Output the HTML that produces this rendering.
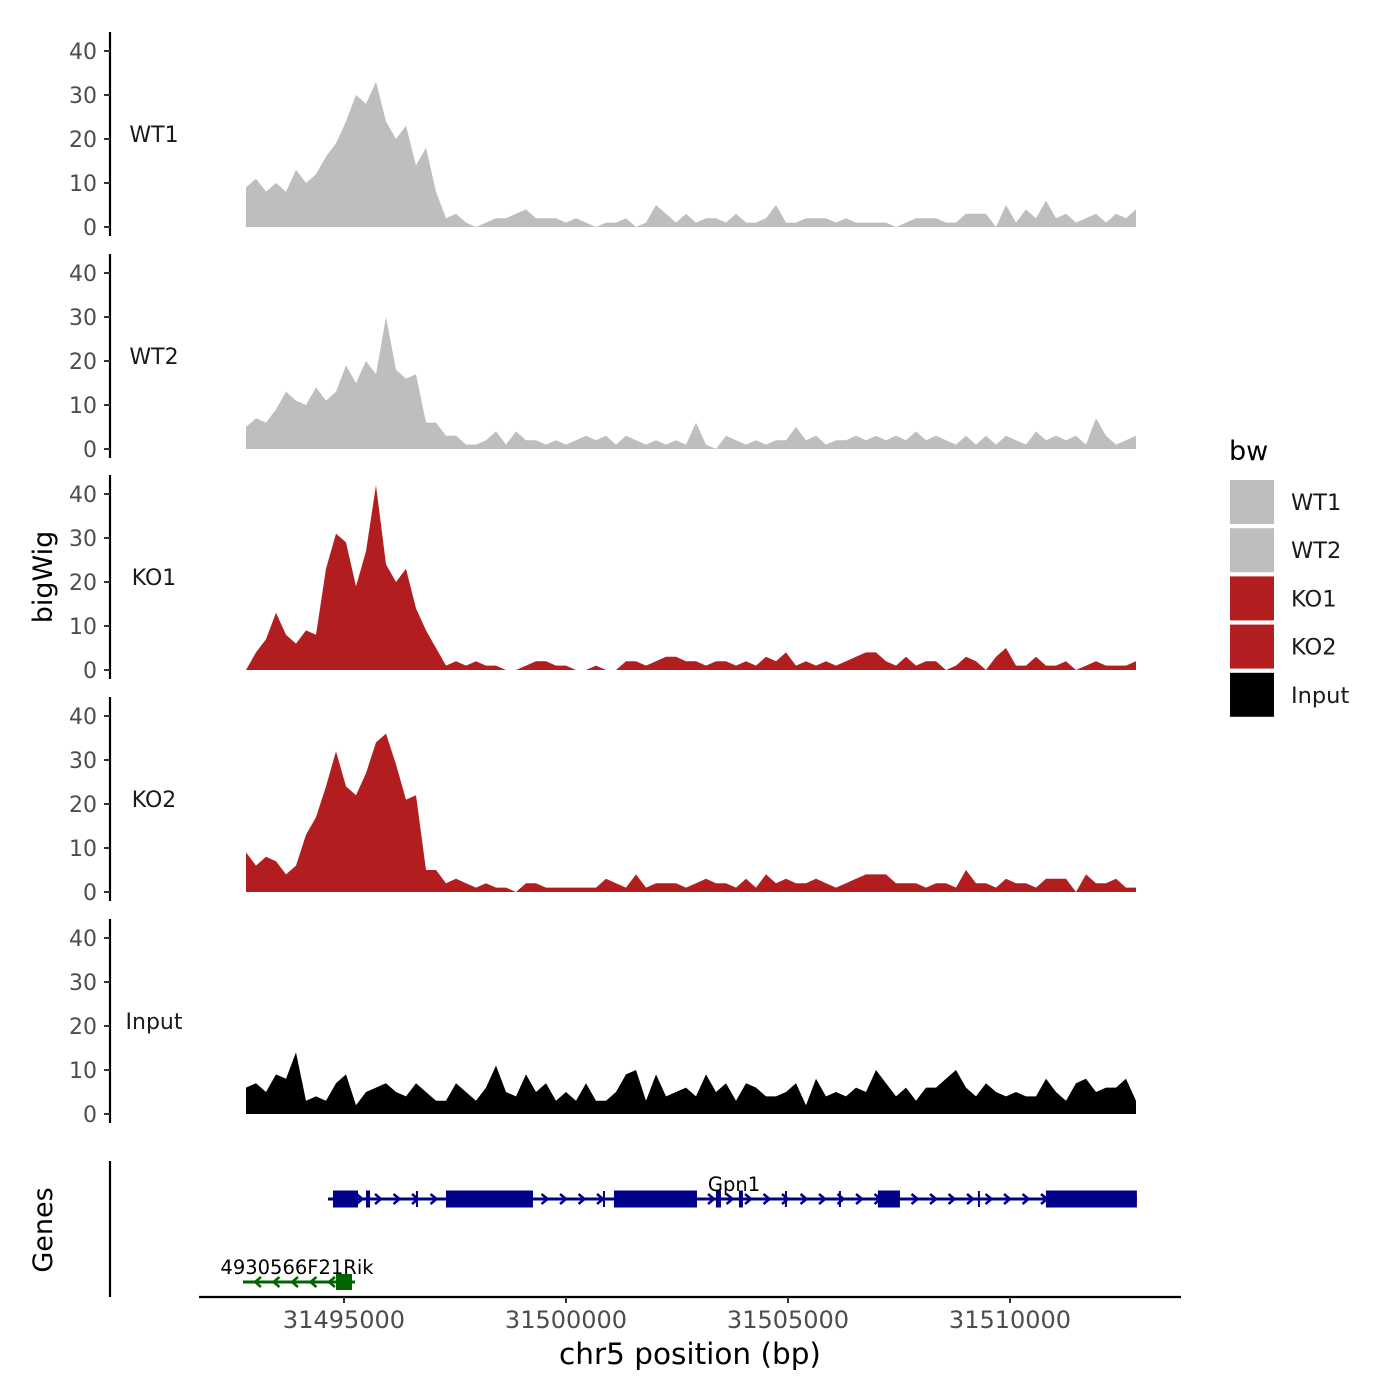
<!DOCTYPE html>
<html><head><meta charset="utf-8"><style>
body{margin:0;background:#fff}
svg{display:block;font-family:"DejaVu Sans","Liberation Sans",sans-serif}
</style></head><body>
<svg id="c" width="1400" height="1400" viewBox="0 0 1400 1400"></svg>
<script>
const tracks = ["WT1","WT2","KO1","KO2","Input"];
const trackColors = ["#bebebe","#bebebe","#b21e1f","#b21e1f","#000000"];
const wt1 = [9,11,8,10,8,13,10,12,16,19,24,30,28,33,24,20,23,14,18,8,2,3,1,0,1,2,2,3,4,2,2,2,1,2,1,0,1,1,2,0,1,5,3,1,3,1,2,2,1,3,1,1,2,5,1,1,2,2,2,1,2,1,1,1,1,0,1,2,2,2,1,1,3,3,3,0,5,1,4,2,6,2,3,1,2,3,1,3,2,4];
const wt2 = [5,7,6,9,13,11,10,14,11,13,19,15,20,17,30,18,16,17,6,6,3,3,1,1,2,4,1,4,2,2,1,2,1,2,3,2,3,1,3,2,1,2,1,2,1,6,1,0,3,2,1,2,1,2,2,5,2,3,1,2,2,3,2,3,2,3,2,4,2,3,2,1,3,1,3,1,3,2,1,4,2,3,2,3,1,7,3,1,2,3];
const ko1 = [0,4,7,13,8,6,9,8,23,31,29,19,27,42,24,20,23,14,9,5,1,2,1,2,1,1,0,0,1,2,2,1,1,0,0,1,0,0,2,2,1,2,3,3,2,2,1,2,2,1,2,1,3,2,4,1,2,1,2,1,2,3,4,4,2,1,3,1,2,2,0,1,3,2,0,3,5,1,1,3,1,1,2,0,1,2,1,1,1,2];
const ko2 = [9,6,8,7,4,6,13,17,24,32,24,22,27,34,36,29,21,22,5,5,2,3,2,1,2,1,1,0,2,2,1,1,1,1,1,1,3,2,1,4,1,2,2,2,1,2,3,2,2,1,3,1,4,2,3,2,2,3,2,1,2,3,4,4,4,2,2,2,1,2,2,1,5,2,2,1,3,2,2,1,3,3,3,0,4,2,2,3,1,1];
const input = [6,7,5,9,8,14,3,4,3,7,9,2,5,6,7,5,4,7,5,3,3,7,5,3,6,11,5,4,9,5,7,3,5,3,7,3,3,5,9,10,3,9,4,5,6,4,9,5,7,3,7,6,4,4,5,7,2,8,4,5,4,6,5,10,7,4,6,3,6,6,8,10,6,4,7,5,4,5,4,4,8,5,3,7,8,5,6,6,8,3];
const yTicks = [0,10,20,30,40];
const xTicks = [31495000,31500000,31505000,31510000];
const xTickLabels = ["31495000","31500000","31505000","31510000"];
const regionStart = 31492793, regionEnd = 31512838;
const gpn1Span = [31494640,31512858];
const gpn1Exons = [[31494752,31495315],[31495495,31495586],[31497297,31499256],[31501080,31502950],[31503377,31503490],[31503895,31503985],[31507025,31507521],[31510809,31512858]];
const gpn1Ticks = [31496644,31500855,31504954,31506170,31509300];
const rikSpan = [31492725,31495248];
const rikExons = [[31494820,31495180]];

const NS="http://www.w3.org/2000/svg";
const svg=document.getElementById('c');
function mk(t,a,p){const e=document.createElementNS(NS,t);for(const k in a)e.setAttribute(k,a[k]);(p||svg).appendChild(e);return e;}
const xS = bp => 344 + (bp-31495000)*222/5000;
const zeroY = [227,449,670,892,1114];
const yS = (v,i) => zeroY[i] - v*4.4;
const series=[wt1,wt2,ko1,ko2,input];

series.forEach((vals,i)=>{
  const g=mk('g',{});
  
  
  const n=vals.length, step=(regionEnd-regionStart)/(n-1);
  let d='M'+xS(regionStart)+','+yS(0,i);
  vals.forEach((v,k)=>{d+=' L'+xS(regionStart+k*step).toFixed(1)+','+yS(v,i).toFixed(1);});
  d+=' L'+xS(regionEnd)+','+yS(0,i)+' Z';
  const p=mk('path',{d:d,fill:trackColors[i]},g);
  
  
  const ax=mk('line',{x1:110,x2:110,y1:zeroY[i]-195,y2:zeroY[i]+9,stroke:'#000','stroke-width':2.2},g);
  
  
  yTicks.forEach(t=>{
    mk('line',{x1:104,x2:110,y1:yS(t,i),y2:yS(t,i),stroke:'#333','stroke-width':2},g);
    const tx=mk('text',{x:97,y:yS(t,i)+8,'text-anchor':'end','font-size':22,fill:'#4d4d4d'},g);
    tx.textContent=t;
    
    
  });
  const lb=mk('text',{x:154,y:zeroY[i]-85,'text-anchor':'middle','font-size':22,fill:'#1a1a1a'},g);
  lb.textContent=tracks[i];
  
  
});

const yt=mk('text',{x:0,y:0,transform:'translate(52,577) rotate(-90)','text-anchor':'middle','font-size':27,fill:'#000'});
yt.textContent='bigWig';



const gg=mk('g',{});


const ga=mk('line',{x1:110,x2:110,y1:1161,y2:1297,stroke:'#000','stroke-width':2.2},gg);


const gt=mk('text',{x:0,y:0,transform:'translate(52,1230) rotate(-90)','text-anchor':'middle','font-size':27,fill:'#000'},gg);
gt.textContent='Genes';



function gene(span,exons,ticks,y,col,h,dir,name,lx,ly){
  const g=mk('g',{},gg);
  
  
  mk('line',{x1:xS(span[0]),x2:xS(span[1]),y1:y,y2:y,stroke:col,'stroke-width':3},g);
  for(let x=xS(span[0])+14;x<xS(span[1])-6;x+=18.5){
    mk('polyline',{points:(x-dir*4)+','+(y-5)+' '+(x+dir*2)+','+y+' '+(x-dir*4)+','+(y+5),fill:'none',stroke:col,'stroke-width':2.5},g);
  }
  ticks.forEach(t=>mk('line',{x1:xS(t),x2:xS(t),y1:y-8,y2:y+8,stroke:col,'stroke-width':2},g));
  exons.forEach(e=>{
    const r=mk('rect',{x:xS(e[0]),y:y-h/2,width:Math.max(3,xS(e[1])-xS(e[0])),height:h,fill:col},g);
    
    
  });
  const t=mk('text',{x:lx,y:ly,'text-anchor':'middle','font-size':19.5,fill:'#000'},g);
  t.textContent=name;
  
  
}
gene(gpn1Span,gpn1Exons,gpn1Ticks,1199,'#00008b',17,1,'Gpn1',734,1191);
gene(rikSpan,rikExons,[],1282,'#006400',16,-1,'4930566F21Rik',297,1274);

const xa=mk('line',{x1:199,x2:1181,y1:1297,y2:1297,stroke:'#000','stroke-width':2.2});


xTicks.forEach((t,k)=>{
  mk('line',{x1:xS(t),x2:xS(t),y1:1297,y2:1303,stroke:'#333','stroke-width':2});
  const tx=mk('text',{x:xS(t),y:1328,'text-anchor':'middle','font-size':24,fill:'#4d4d4d'});
  tx.textContent=xTickLabels[k];
  
  
});
const xt=mk('text',{x:690,y:1364,'text-anchor':'middle','font-size':29.5,fill:'#000'});
xt.textContent='chr5 position (bp)';



const lg=mk('g',{});


const lt=mk('text',{x:1229,y:460,'font-size':27,fill:'#000'},lg);
lt.textContent='bw';


tracks.forEach((t,i)=>{
  const e=mk('g',{},lg);
  
  
  mk('rect',{x:1230,y:480+i*48.2,width:44,height:44,fill:trackColors[i]},e);
  const tx=mk('text',{x:1291,y:510+i*48.2,'font-size':22.5,fill:'#1a1a1a'},e);
  tx.textContent=t;
});
</script>
</body></html>
